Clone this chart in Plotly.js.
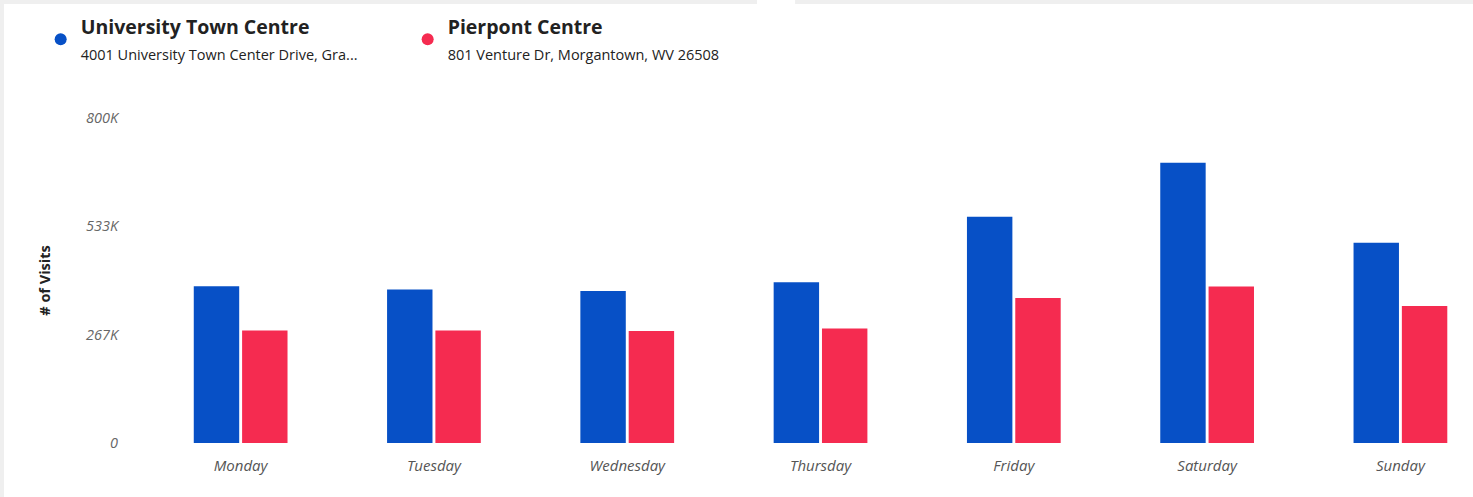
<!DOCTYPE html>
<html>
<head>
<meta charset="utf-8">
<script src="https://cdn.plot.ly/plotly-3.0.1.min.js"></script>
<style>
html,body{margin:0;padding:0;background:#fff;}
#chart{width:1473px;height:497px;}
</style>
</head>
<body>
<div id="chart"></div>
<script>
const days = ["Monday","Tuesday","Wednesday","Thursday","Friday","Saturday","Sunday"];
const universityVisits = [386000, 378000, 374000, 396000, 557000, 690000, 493000];
const pierpontVisits = [277000, 277000, 276000, 282000, 357000, 385000, 337000];
const seriesNames = ["University Town Centre", "Pierpont Centre"];
const seriesAddresses = ["4001 University Town Center Drive, Gra...", "801 Venture Dr, Morgantown, WV 26508"];
const yTickVals = [0, 266667, 533333, 800000];
const yTickText = ["0", "267K", "533K", "800K"];

const blue = "#0750C6";
const red = "#F52B50";

const legendName = (i) => "<b>" + seriesNames[i] + "</b><br><span style='font-size:14.5px'>" + seriesAddresses[i] + "</span>";

const traces = [
  {type:"bar", x:days, y:universityVisits, name:seriesNames[0], marker:{color:blue}, showlegend:false},
  {type:"bar", x:days, y:pierpontVisits, name:seriesNames[1], marker:{color:red}, showlegend:false},
  {type:"scatter", mode:"markers", x:[null], y:[null], name:legendName(0), marker:{color:blue, size:14, symbol:"circle"}, hoverinfo:"skip"},
  {type:"scatter", mode:"markers", x:[null], y:[null], name:legendName(1), marker:{color:red, size:14, symbol:"circle"}, hoverinfo:"skip"}
];

const layout = {
  width:1473, height:497,
  paper_bgcolor:"#ffffff", plot_bgcolor:"#ffffff",
  margin:{l:144, r:3, t:118, b:54, autoexpand:false},
  barmode:"group", bargap:0.5, bargroupgap:0.06,
  font:{family:"Open Sans, sans-serif", color:"#333"},
  showlegend:true,
  legend:{
    orientation:"h", xref:"container", yref:"container",
    x:0.0276, y:0.985, xanchor:"left", yanchor:"top",
    entrywidth:322, entrywidthmode:"pixels",
    font:{size:19.5, color:"#222", family:"Open Sans, sans-serif"},
    itemsizing:"constant", bgcolor:"rgba(0,0,0,0)", tracegroupgap:0
  },
  xaxis:{
    type:"category", range:[-0.5, 6.36],
    showgrid:false, zeroline:false, showline:false,
    ticks:"outside", ticklen:9, tickcolor:"rgba(0,0,0,0)",
    tickfont:{family:"Open Sans, sans-serif", size:15, color:"#555", style:"italic"},
    fixedrange:true
  },
  yaxis:{
    range:[0, 800000],
    tickvals:yTickVals, ticktext:yTickText,
    showgrid:false, zeroline:false, showline:false,
    ticks:"outside", ticklen:22, tickcolor:"rgba(0,0,0,0)",
    tickfont:{family:"Open Sans, sans-serif", size:14.5, color:"#666", style:"italic"},
    title:{text:"<b># of Visits</b>", font:{family:"Open Sans, sans-serif", size:14.5, color:"#222"}, standoff:31},
    fixedrange:true
  },
  shapes:[
    {type:"rect", xref:"paper", yref:"paper", x0:-0.2, x1:0.4623, y0:1.351, y1:1.5, fillcolor:"#efefef", line:{width:0}, layer:"below"},
    {type:"rect", xref:"paper", yref:"paper", x0:0.4910, x1:1.1, y0:1.351, y1:1.5, fillcolor:"#efefef", line:{width:0}, layer:"below"},
    {type:"rect", xref:"paper", yref:"paper", x0:-0.2, x1:-0.1056, y0:-0.3, y1:1.5, fillcolor:"#efefef", line:{width:0}, layer:"below"}
  ]
};

Plotly.newPlot("chart", traces, layout, {displayModeBar:false, staticPlot:true});
</script>
</body>
</html>
